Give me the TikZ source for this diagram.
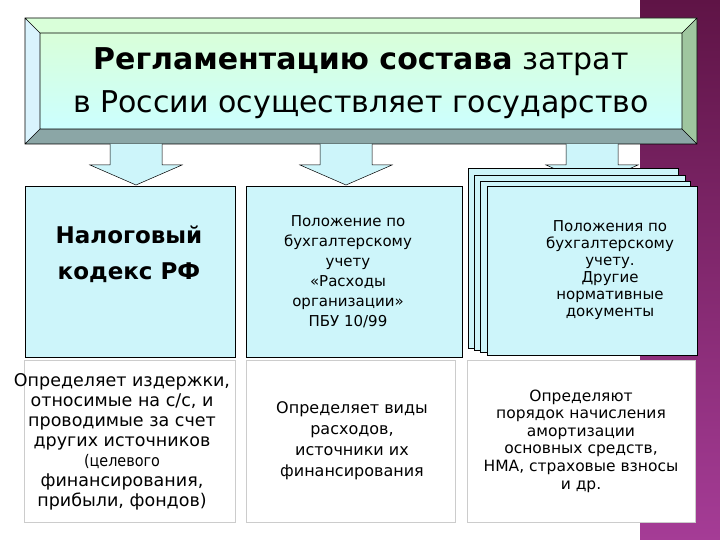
\documentclass[tikz,border=0pt]{standalone}
\usepackage{fontspec}
\setmainfont{DejaVu Sans}
\newfontfamily\condf{DejaVu Sans Condensed}
\definecolor{celc}{RGB}{205,245,250}
\definecolor{ptop}{RGB}{95,20,70}
\definecolor{pbot}{RGB}{165,60,150}
\begin{document}
\begin{tikzpicture}[x=1pt,y=-1pt,
  cellbox/.style={draw=black, fill=celc, line width=0.6pt},
  lowbox/.style={draw=gray!40, fill=white, line width=0.6pt},
  arr/.style={draw=black, fill=celc, line width=0.5pt},
  txt/.style={align=center, text=black, inner sep=0pt}]
\useasboundingbox (0,0) rectangle (720,540);
\fill[white] (0,0) rectangle (720,540);
\shade[top color=ptop, bottom color=pbot] (640,0) rectangle (720,540);
% title bevel box
\fill[green!15!white] (25,18) -- (697,18) -- (682,33) -- (40,33) -- cycle;
\fill[green!25!gray!60] (697,18) -- (697,144) -- (682,129) -- (682,33) -- cycle;
\fill[teal!30!gray!70] (25,144) -- (697,144) -- (682,129) -- (40,129) -- cycle;
\fill[cyan!15!white] (25,18) -- (40,33) -- (40,129) -- (25,144) -- cycle;
\shade[top color=green!15!white, bottom color=cyan!20!white] (40,33) rectangle (682,129);
\draw[line width=0.6pt] (25,18) rectangle (697,144) (40,33) rectangle (682,129)
  (25,18)--(40,33) (697,18)--(682,33) (25,144)--(40,129) (697,144)--(682,129);
\node[txt, font=\fontsize{30}{43}\selectfont] (title) at (361,83)
  {\textbf{Регламентацию состава} затрат\\в России осуществляет государство};
% arrows
\foreach \c/\n in {136/a1,346/a2,592/a3}{
  \draw[arr] (\c-26,144) -- (\c-26,165) -- (\c-46,165) -- (\c,185) -- (\c+46,165) -- (\c+26,165) -- (\c+26,144);
}
% top cells
\node[cellbox, minimum width=210, minimum height=171, anchor=north west] (c1) at (25,186) {};
\node[cellbox, minimum width=216, minimum height=171, anchor=north west] (c2) at (246,186) {};
\foreach \x/\y/\r/\b in {468/168/678/348,474/175/685/350,480/181/690/352}
  \draw[cellbox] (\x,\y) rectangle (\r,\b);
\node[cellbox, minimum width=210, minimum height=169, anchor=north west] (c3) at (487,186) {};
\node[txt, font=\bfseries\fontsize{23}{36}\selectfont] (t1) at (129,254) {Налоговый\\ кодекс РФ};
\node[txt, font=\fontsize{15}{20}\selectfont] (t2) at (348,272) {Положение по\\бухгалтерскому\\учету\\«Расходы\\организации»\\ПБУ 10/99};
\node[txt, font=\fontsize{15}{17}\selectfont] (t3) at (610,270) {Положения по\\бухгалтерскому\\учету.\\Другие\\нормативные\\документы};
% bottom cells
\node[lowbox, minimum width=211, minimum height=162, anchor=north west] (b1) at (24,360) {};
\node[lowbox, minimum width=209, minimum height=162, anchor=north west] (b2) at (246,360) {};
\node[lowbox, minimum width=228, minimum height=162, anchor=north west] (b3) at (467,360) {};
\node[txt, font=\fontsize{17.5}{20}\selectfont] (s1) at (122,442) {Определяет издержки,\\относимые на с/с, и\\проводимые за счет\\других источников\\\condf\fontsize{16}{20}\selectfont (целевого\\финансирования,\\прибыли, фондов)};
\node[txt, font=\fontsize{16}{21}\selectfont] (s2) at (352,441) {Определяет виды\\расходов,\\источники их\\финансирования};
\node[txt, font=\fontsize{15.5}{17.6}\selectfont] (s3) at (581,441) {Определяют\\порядок начисления\\амортизации\\основных средств,\\НМА, страховые взносы\\и др.};
\end{tikzpicture}
\end{document}
